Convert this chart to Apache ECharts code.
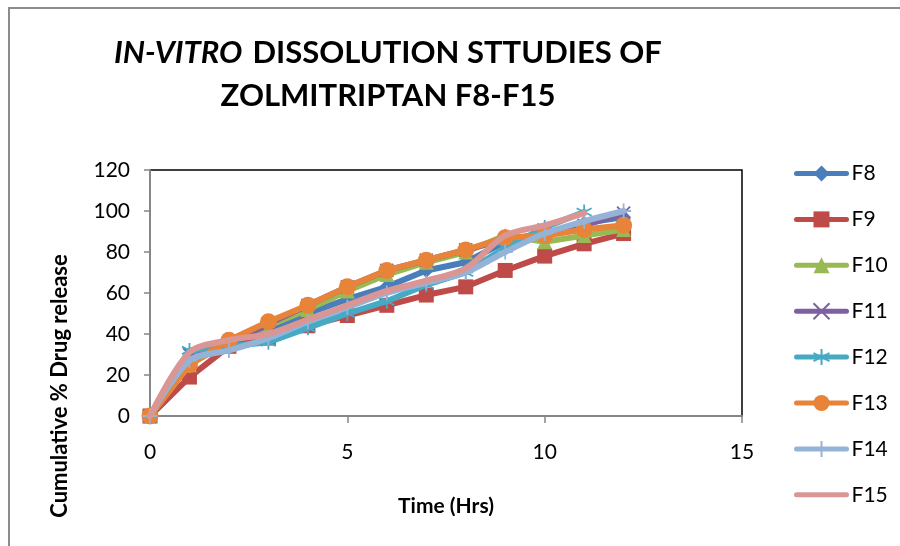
<!DOCTYPE html>
<html><head><meta charset="utf-8">
<script src="https://cdn.jsdelivr.net/npm/echarts@6/dist/echarts.min.js"></script>
<style>html,body{margin:0;padding:0;background:#fff}#c{width:900px;height:546px}</style>
</head><body><div id="c"></div>
<script>
const time = [0,1,2,3,4,5,6,7,8,9,10,11,12];
const F8  = [0,28,35,42,50,57,63,71,75,85,89,94,97];
const F9  = [0,19,34,38,44,49,54,59,63,71,78,84,89];
const F10 = [0,25,36,44,52,61,69,75,80,88,85,88,91];
const F11 = [0,30,35,45,54,63,71,76,81,86,89,93,99];
const F12 = [0,32,34,36,43,50,56,64,70,82,92,99.5];
const F13 = [0,25,37,46,54,63,71,76,81,87,88,91,93];
const F14 = [0,27,32,38,46,53,60,65,70,80,89,95,100];
const F15 = [0,31,37,40,47,54,61,66,72,88,93,99];
const seriesNames = ['F8','F9','F10','F11','F12','F13','F14','F15'];
const seriesValues = [F8,F9,F10,F11,F12,F13,F14,F15];
const colors = ['#4A7EBB','#BE4B48','#98B954','#7D60A0','#46AAC5','#E8843A','#95B3D7','#D99694'];
const xTicks = {min:0,max:15,interval:5};
const yTicks = {min:0,max:120,interval:20};

const symbols = [
  {symbol:'diamond',size:15},
  {symbol:'rect',size:15},
  {symbol:'triangle',size:15},
  {symbol:'path://M0,0L10,10M10,0L0,10',size:13,stroke:true},
  {symbol:'path://M5,0L5,10M0,2.5L10,7.5M0,7.5L10,2.5',size:15,stroke:true},
  {symbol:'circle',size:17},
  {symbol:'path://M5,0L5,10M0,5L10,5',size:15,stroke:true},
  {symbol:'none',size:0}
];
const smooth = [false,false,false,false,false,false,0.3,0.3];
const FONT = 'Lato';

const chart = echarts.init(document.getElementById('c'));
chart.setOption({
  animation:false,
  backgroundColor:'#fff',
  color: colors,
  graphic:[
    {type:'rect',shape:{x:9,y:8,width:1200,height:1200},style:{fill:'none',stroke:'#8c8c8c',lineWidth:2},silent:true},
    {type:'text',x:388,y:31,style:{
      text:'{i|IN-VITRO}{s| }{b|DISSOLUTION STTUDIES OF}\n{b|ZOLMITRIPTAN F8-F15}',
      align:'center',verticalAlign:'top',
      rich:{
        i:{fontFamily:FONT,fontWeight:'bold',fontStyle:'italic',fontSize:31,lineHeight:43,fill:'#000'},
        s:{fontFamily:FONT,fontSize:31,lineHeight:43,width:10},
        b:{fontFamily:FONT,fontWeight:'bold',fontSize:31,lineHeight:43,fill:'#000'}
      }}},
    {type:'text',x:60,y:386,rotation:Math.PI/2,style:{
      text:'Cumulative % Drug release',align:'center',verticalAlign:'middle',
      fontFamily:FONT,fontWeight:'bold',fontSize:22,fill:'#000'}}
  ],
  grid:{left:150,top:170,right:158,bottom:130,show:true,borderColor:'#000',borderWidth:1.5,backgroundColor:'#fff'},
  legend:{
    orient:'vertical',left:794,top:163,padding:0,itemWidth:50,itemHeight:20,itemGap:24.9,
    data:seriesNames.map(n => n==='F15' ? {name:n, itemStyle:{opacity:0}} : n),
    lineStyle:{width:5},
    textStyle:{fontFamily:FONT,fontSize:21,color:'#000',lineHeight:20}
  },
  xAxis:{
    type:'value',min:xTicks.min,max:xTicks.max,interval:xTicks.interval,
    name:'Time (Hrs)',nameLocation:'middle',nameGap:80,
    nameTextStyle:{fontFamily:FONT,fontWeight:'bold',fontSize:21,color:'#000'},
    splitLine:{show:false},
    axisLine:{show:true,lineStyle:{color:'#868686',width:2}},
    axisTick:{show:true,inside:false,length:7,lineStyle:{color:'#868686',width:1.5}},
    axisLabel:{fontFamily:FONT,fontSize:21,color:'#000',margin:26}
  },
  yAxis:{
    type:'value',min:yTicks.min,max:yTicks.max,interval:yTicks.interval,
    splitLine:{show:false},
    axisLine:{show:true,lineStyle:{color:'#868686',width:2}},
    axisTick:{show:true,inside:false,length:6,lineStyle:{color:'#868686',width:1.5}},
    axisLabel:{fontFamily:FONT,fontSize:21,color:'#000',margin:20}
  },
  series: seriesNames.map((n,k)=>{
    const s = symbols[k];
    return {
      name:n,type:'line',
      data: seriesValues[k].map((v,i)=>[time[i],v]),
      symbol:s.symbol,symbolSize:s.size,showSymbol:s.symbol!=='none',
      smooth:smooth[k],
      lineStyle:{width:6,color:colors[k],cap:'round',join:'round'},
      itemStyle: s.stroke ? {color:colors[k],borderColor:colors[k],borderWidth:1.8} : {color:colors[k],borderWidth:0},
      z:2+k
    };
  })
});
</script></body></html>
